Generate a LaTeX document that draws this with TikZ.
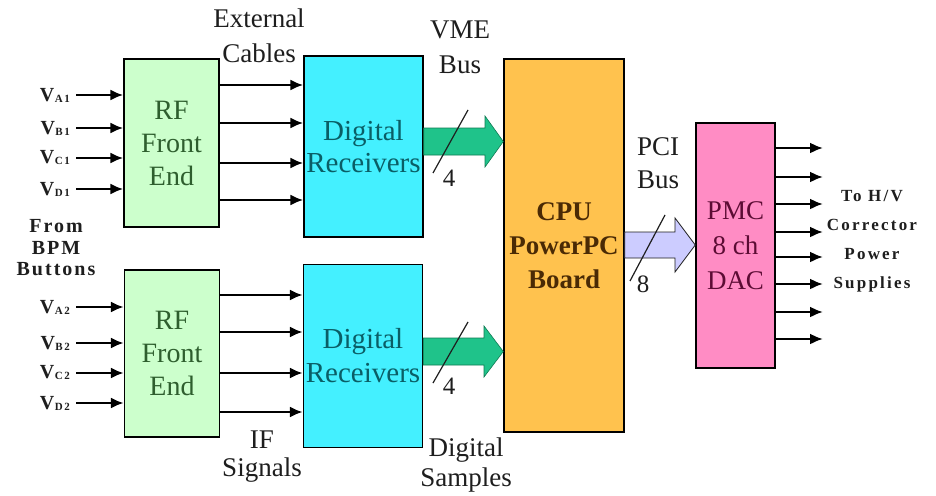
\documentclass[tikz,border=0pt]{standalone}
\usepackage{fontspec}
\setmainfont{Liberation Serif}
\usetikzlibrary{arrows.meta}

\definecolor{rfgreen}{HTML}{CCFFCC}
\definecolor{rftext}{HTML}{2E5E2E}
\definecolor{drcyan}{HTML}{44F0FF}
\definecolor{drtext}{HTML}{0A5E66}
\definecolor{cpuorange}{HTML}{FFC24E}
\definecolor{cputext}{HTML}{4A2A05}
\definecolor{pmcpink}{HTML}{FF8CC4}
\definecolor{pmctext}{HTML}{5C0C34}
\definecolor{busgreen}{HTML}{1FC38A}
\definecolor{busedge}{HTML}{0E7A52}
\definecolor{pcilav}{HTML}{CCCCFF}
\definecolor{ink}{HTML}{1E1E1E}

\tikzset{
  block/.style={draw=black, line width=1.4pt, inner sep=0pt, align=center},
  sig/.style={draw=black, line width=2.2pt, -{Latex[length=13pt,width=11pt]}},
  lbl/.style={text=ink, align=center, inner sep=0pt, font=\fontsize{27}{33}\selectfont},
  vin/.style={text=ink, anchor=east, inner sep=0pt, font=\bfseries\fontsize{20}{20}\selectfont},
  buswidth/.style={draw=ink, line width=1.2pt},
  busnum/.style={text=ink, inner sep=0pt, font=\fontsize{25}{25}\selectfont},
  sidetext/.style={text=ink, align=center, inner sep=0pt,
    font=\bfseries\addfontfeature{LetterSpace=13}\fontsize{17}{29}\selectfont},
}
\newcommand{\vsig}[2]{V\kern0.5pt\raisebox{-1pt}{\fontsize{11}{11}\selectfont #1\kern1.5pt #2}}

\begin{document}
\begin{tikzpicture}[x=1pt, y=-1pt]
\useasboundingbox[fill=white] (0,0) rectangle (936,495);

% ---- blocks ----
\node[block, fill=rfgreen, text=rftext, minimum width=95pt, minimum height=168pt,
      font=\fontsize{28}{33}\selectfont] (rf1) at (171.5,143) {RF\\Front\\End};
\node[block, fill=drcyan, text=drtext, minimum width=119pt, minimum height=181pt,
      font=\fontsize{29}{32}\selectfont] (dr1) at (363.5,146.5) {Digital\\Receivers};
\node[block, fill=rfgreen, text=rftext, minimum width=95pt, minimum height=167pt,
      font=\fontsize{28}{33}\selectfont] (rf2) at (172,353.5) {RF\\Front\\End};
\node[block, fill=drcyan, text=drtext, minimum width=119pt, minimum height=183pt,
      font=\fontsize{29}{34}\selectfont] (dr2) at (363,356) {Digital\\Receivers};
\node[block, fill=cpuorange, text=cputext, minimum width=120pt, minimum height=373pt,
      font=\bfseries\fontsize{27}{34}\selectfont] (cpu) at (564,245.5) {CPU\\PowerPC\\Board};
\node[block, fill=pmcpink, text=pmctext, minimum width=79pt, minimum height=245pt,
      font=\fontsize{27}{35}\selectfont] (pmc) at (735.5,245.5) {PMC\\8 ch\\DAC};

% ---- button inputs ----
\foreach \yy/\ch/\nn [count=\i] in {95/A/1, 128/B/1, 158/C/1, 189/D/1} {
  \coordinate (in1\i) at (76,\yy);
  \node[vin] (v1\i) at (70,\yy) {\vsig{\ch}{\nn}};
  \draw[sig] (in1\i) -- (rf1.west |- in1\i);
}
\foreach \yy/\ch/\nn [count=\i] in {307/A/2, 343/B/2, 373/C/2, 403/D/2} {
  \coordinate (in2\i) at (76,\yy);
  \node[vin] (v2\i) at (70,\yy) {\vsig{\ch}{\nn}};
  \draw[sig] (in2\i) -- (rf2.west |- in2\i);
}
\node[text=ink, align=center, inner sep=0pt,
      font=\bfseries\addfontfeature{LetterSpace=10}\fontsize{20}{21.5}\selectfont]
      (bpm) at (56,248) {From\\BPM\\Buttons};

% ---- IF signal cables ----
\foreach \yy [count=\i] in {85,123,163,200} {
  \coordinate (c1\i) at (0,\yy);
  \draw[sig] (rf1.east |- c1\i) -- (dr1.west |- c1\i);
}
\foreach \yy [count=\i] in {295,332,373,412} {
  \coordinate (c2\i) at (0,\yy);
  \draw[sig] (rf2.east |- c2\i) -- (dr2.west |- c2\i);
}
\node[lbl, font=\fontsize{27}{35}\selectfont] (ext) at (259,35.5) {External\\Cables};
\node[lbl, font=\fontsize{27}{28}\selectfont] (ifs) at (262,456.5) {IF\\Signals};

% ---- VME bus arrows (4 lines each) ----
\draw[fill=busgreen, draw=busedge, line width=0.6pt]
  (dr1.east |- 0,128) -- (485,128) -- (485,116) -- (cpu.west |- 0,141.5)
  -- (485,167) -- (485,155) -- (dr1.east |- 0,155) -- cycle;
\draw[buswidth] (433,173) -- (468,110);
\node[busnum] (n4a) at (449,178) {4};

\draw[fill=busgreen, draw=busedge, line width=0.6pt]
  (dr2.east |- 0,338) -- (484,338) -- (484,326) -- (cpu.west |- 0,351.5)
  -- (484,377) -- (484,365) -- (dr2.east |- 0,365) -- cycle;
\draw[buswidth] (433,383) -- (468,322);
\node[busnum] (n4b) at (449,386) {4};

\node[lbl, font=\fontsize{27}{35}\selectfont] (vme) at (460,47) {VME\\Bus};
\node[lbl, font=\fontsize{27}{30}\selectfont] (dsm) at (466,465) {Digital\\Samples};

% ---- PCI bus arrow (8 lines) ----
\draw[fill=pcilav, draw=ink, line width=0.8pt]
  (cpu.east |- 0,232) -- (675,232) -- (675,218) -- (pmc.west |- 0,245)
  -- (675,272) -- (675,258) -- (cpu.east |- 0,258) -- cycle;
\draw[buswidth] (630,281) -- (665,215);
\node[busnum] (n8) at (643,284) {8};
\node[lbl, font=\fontsize{27}{33}\selectfont] (pci) at (658,163.5) {PCI\\Bus};

% ---- DAC outputs ----
\foreach \yy [count=\i] in {148,177,204,232,257,284,312,339} {
  \coordinate (out\i) at (823,\yy);
  \draw[sig] (pmc.east |- out\i) -- (out\i);
}
\node[sidetext] (dest) at (872,241) {To H/V\\Corrector\\Power\\Supplies};
\end{tikzpicture}
\end{document}
